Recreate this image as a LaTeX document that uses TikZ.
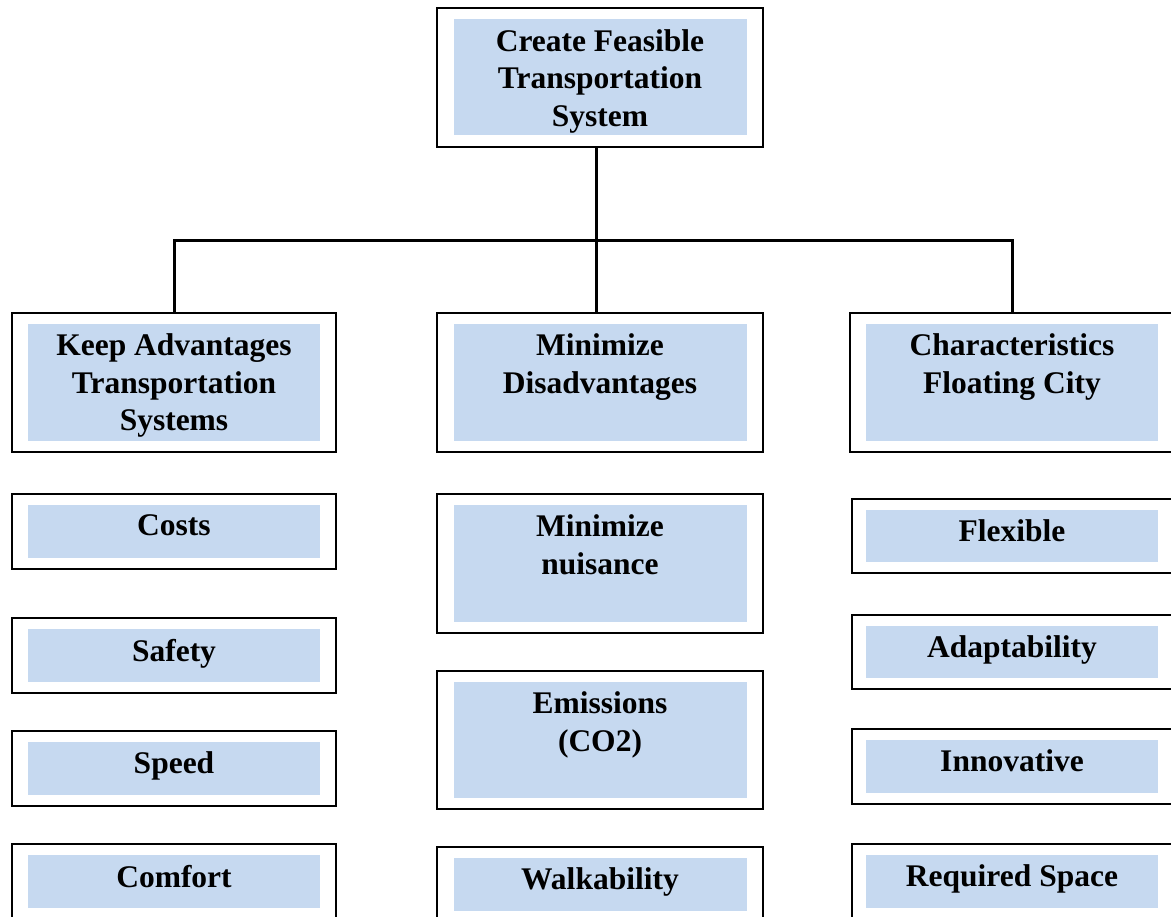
\documentclass[tikz,border=0pt]{standalone}
\usepackage{fontspec}
\setmainfont{Liberation Serif}
\definecolor{myblue}{RGB}{198,217,240}

\begin{document}
\begin{tikzpicture}[x=1pt,y=-1pt,
  outerbox/.style={draw=black,line width=1.6pt,fill=white,inner sep=0pt},
  fillbox/.style={fill=myblue,inner sep=0pt},
  boxtext/.style={anchor=north,align=center,inner sep=0pt,font=\bfseries\fontsize{31.5}{37.5}\selectfont},
  link/.style={line width=3pt}]
\useasboundingbox (0,0) rectangle (1171,917);

% goal
\node[outerbox,minimum width=326pt,minimum height=139pt] (goal) at (600,77.5) {};
\node[fillbox,minimum width=293pt,minimum height=116pt] (goalfill) at (goal) {};
\node[boxtext] (goaltext) at ([yshift=-10pt]goalfill.north) {Create Feasible\\Transportation\\System};

% left column
\foreach \nm/\ya/\h/\txt in {keep/313/139/{Keep Advantages\\Transportation\\Systems},
  costs/494/75/Costs, safety/618/75/Safety, speed/731/75/Speed, comfort/844/75/Comfort}{
\node[outerbox,minimum width=324pt,minimum height=\h pt] (\nm) at (174,\ya+\h/2) {};
\node[fillbox,minimum width=292pt,minimum height=\h pt-22pt] (\nm fill) at (\nm) {};
\node[boxtext] (\nm text) at ([yshift=-10pt]\nm fill.north) {\txt};
}

% middle column
\foreach \nm/\ya/\h/\txt in {minim/313/139/{Minimize\\Disadvantages},
  nuisance/494/139/{Minimize\\nuisance}, emission/671/138/{Emissions\\(CO2)}, walk/847/75/Walkability}{
\node[outerbox,minimum width=326pt,minimum height=\h pt] (\nm) at (600,\ya+\h/2) {};
\node[fillbox,minimum width=293pt,minimum height=\h pt-22pt] (\nm fill) at (\nm) {};
\node[boxtext] (\nm text) at ([yshift=-10pt]\nm fill.north) {\txt};
}

% right column
\foreach \nm/\ya/\h/\w/\txt in {charac/313/139/324/{Characteristics\\Floating City},
  flex/499/74/320/Flexible, adapt/615/74/320/Adaptability, innov/729/75/320/Innovative, space/844/75/320/Required Space}{
\node[outerbox,minimum width=\w pt,minimum height=\h pt] (\nm) at (1012,\ya+\h/2) {};
\node[fillbox,minimum width=292pt,minimum height=\h pt-22pt] (\nm fill) at (\nm) {};
\node[boxtext] (\nm text) at ([yshift=-10pt]\nm fill.north) {\txt};
}

% connectors
\coordinate (hub) at (596,241);
\draw[link] (goal.south -| hub) -- (hub |- minim.north);
\draw[link] (keep.north) |- (hub) -| (charac.north);
\end{tikzpicture}
\end{document}
